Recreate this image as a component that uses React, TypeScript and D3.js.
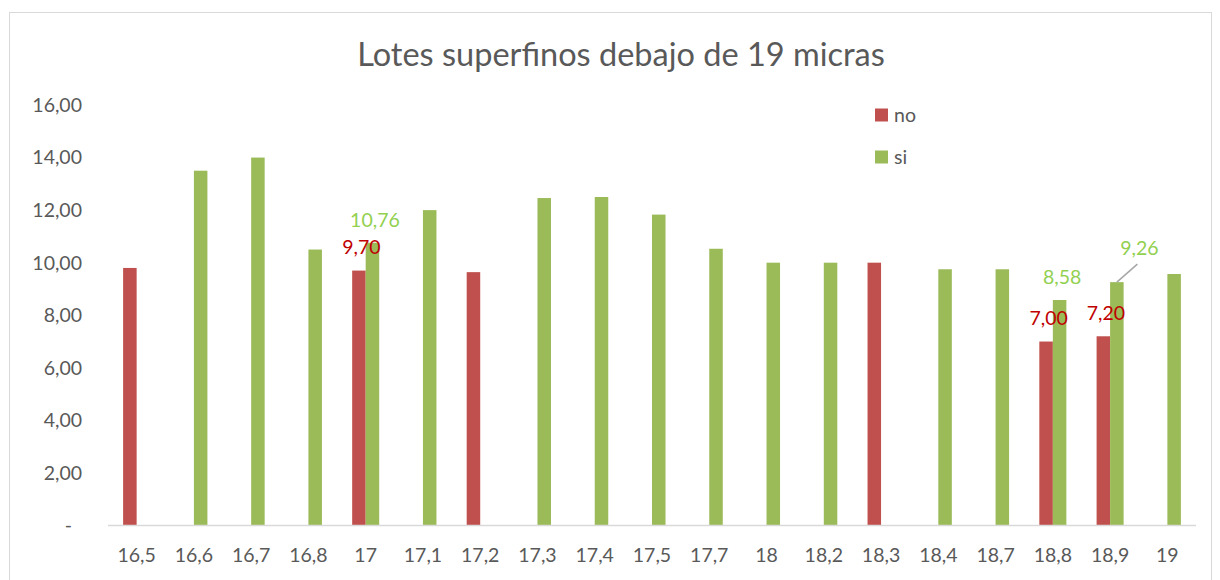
import React, { useEffect, useRef } from 'react';
import * as d3 from 'd3';

const categories = ['16,5', '16,6', '16,7', '16,8', '17', '17,1', '17,2', '17,3', '17,4', '17,5', '17,7', '18', '18,2', '18,3', '18,4', '18,7', '18,8', '18,9', '19'];
const noValues = [9.8, null, null, null, 9.7, null, 9.64, null, null, null, null, null, null, 10.0, null, null, 7.0, 7.2, null];
const siValues = [null, 13.5, 14.0, 10.5, 10.76, 12.0, null, 12.46, 12.5, 11.83, 10.53, 10.0, 10.0, null, 9.75, 9.75, 8.58, 9.26, 9.57];
const labelledNo = ['17', '18,8', '18,9'];
const labelledSi = ['17', '18,8', '18,9'];
const yTicks = [0, 2, 4, 6, 8, 10, 12, 14, 16];
const seriesNames = ['no', 'si'];

const title = 'Lotes superfinos debajo de 19 micras';
const FONT = 'Lato, "Open Sans", sans-serif';

const App = () => {
  const svgRef = useRef(null);

  useEffect(() => {
    const width = 1220;
    const height = 580;
    const svg = d3.select(svgRef.current);
    svg.selectAll('*').remove();
    svg.attr('width', width).attr('height', height);

    const colors = { no: '#C0504D', si: '#9BBB59' };
    const labelColors = { no: '#C00000', si: '#92D050' };

    // chart area border
    svg.append('rect')
      .attr('x', 9.5).attr('y', 12.5)
      .attr('width', 1202).attr('height', 620)
      .attr('fill', '#fff')
      .attr('stroke', '#D9D9D9')
      .attr('stroke-width', 1);

    svg.append('text')
      .attr('x', 621).attr('y', 66)
      .attr('text-anchor', 'middle')
      .style('font-family', FONT)
      .style('font-size', '32.5px')
      .style('fill', '#595959')
      .text(title);

    const x = d3.scaleBand()
      .domain(categories)
      .range([108, 1196])
      .paddingInner(0.528)
      .paddingOuter(0.264);

    const x1 = d3.scaleBand()
      .domain(seriesNames)
      .range([0, x.bandwidth()]);

    const y = d3.scaleLinear().domain([0, 16]).range([525.5, 105]);

    // y tick labels
    svg.append('g').selectAll('text')
      .data(yTicks)
      .enter()
      .append('text')
      .attr('x', d => (d === 0 ? 72 : 82))
      .attr('y', d => y(d))
      .attr('dy', '0.35em')
      .attr('text-anchor', 'end')
      .style('font-family', FONT)
      .style('font-size', '19.5px')
      .style('fill', '#595959')
      .text(d => (d === 0 ? '-' : d3.format('.2f')(d).replace('.', ',')));

    const series = [
      { name: 'no', values: noValues, labelled: labelledNo },
      { name: 'si', values: siValues, labelled: labelledSi },
    ];

    series.forEach(s => {
      const pts = categories
        .map((c, i) => ({ c, v: s.values[i] }))
        .filter(d => d.v != null);

      svg.append('g').selectAll('rect')
        .data(pts)
        .enter()
        .append('rect')
        .attr('x', d => x(d.c) + x1(s.name))
        .attr('y', d => y(d.v))
        .attr('width', x1.bandwidth())
        .attr('height', d => y(0) - y(d.v))
        .attr('fill', colors[s.name]);
    });

    // axis line
    svg.append('line')
      .attr('x1', x.range()[0]).attr('x2', x.range()[1])
      .attr('y1', y(0)).attr('y2', y(0))
      .attr('stroke', '#D9D9D9')
      .attr('stroke-width', 1.5);

    // x labels
    svg.append('g').selectAll('text')
      .data(categories)
      .enter()
      .append('text')
      .attr('x', d => x(d) + x.bandwidth() / 2)
      .attr('y', 562)
      .attr('text-anchor', 'middle')
      .style('font-family', FONT)
      .style('font-size', '19.5px')
      .style('fill', '#595959')
      .text(d => d);

    // data labels
    series.forEach(s => {
      s.labelled.forEach(c => {
        const v = s.values[categories.indexOf(c)];
        const cx = x(c) + x1(s.name) + x1.bandwidth() / 2;
        const top = y(v);
        let dx = 2.5;
        let dy = -23;
        // this one was dragged away in the original, with a leader line
        if (s.name === 'si' && c === '18,9') {
          dx = 22.5;
          dy = -34;
          svg.append('line')
            .attr('x1', cx).attr('y1', top)
            .attr('x2', cx + dx - 2).attr('y2', top + dy + 16)
            .attr('stroke', '#A6A6A6')
            .attr('stroke-width', 1.5);
        }
        svg.append('text')
          .attr('x', cx + dx)
          .attr('y', top + dy)
          .attr('dy', '0.35em')
          .attr('text-anchor', 'middle')
          .style('font-family', FONT)
          .style('font-size', '19.5px')
          .style('fill', labelColors[s.name])
          .text(d3.format('.2f')(v).replace('.', ','));
      });
    });

    // legend
    const legend = svg.append('g').attr('transform', 'translate(875, 0)');
    seriesNames.forEach((n, i) => {
      const cy = 115 + i * 42;
      legend.append('rect')
        .attr('x', 0).attr('y', cy - 6.5)
        .attr('width', 13).attr('height', 13)
        .attr('fill', colors[n]);
      legend.append('text')
        .attr('x', 19).attr('y', cy)
        .attr('dy', '0.35em')
        .style('font-family', FONT)
        .style('font-size', '19.5px')
        .style('fill', '#595959')
        .text(n);
    });
  }, []);

  return (
    <div style={{ position: 'absolute', left: 0, top: 0 }}>
      <svg ref={svgRef} style={{ display: 'block' }}></svg>
    </div>
  );
};

export default App;
